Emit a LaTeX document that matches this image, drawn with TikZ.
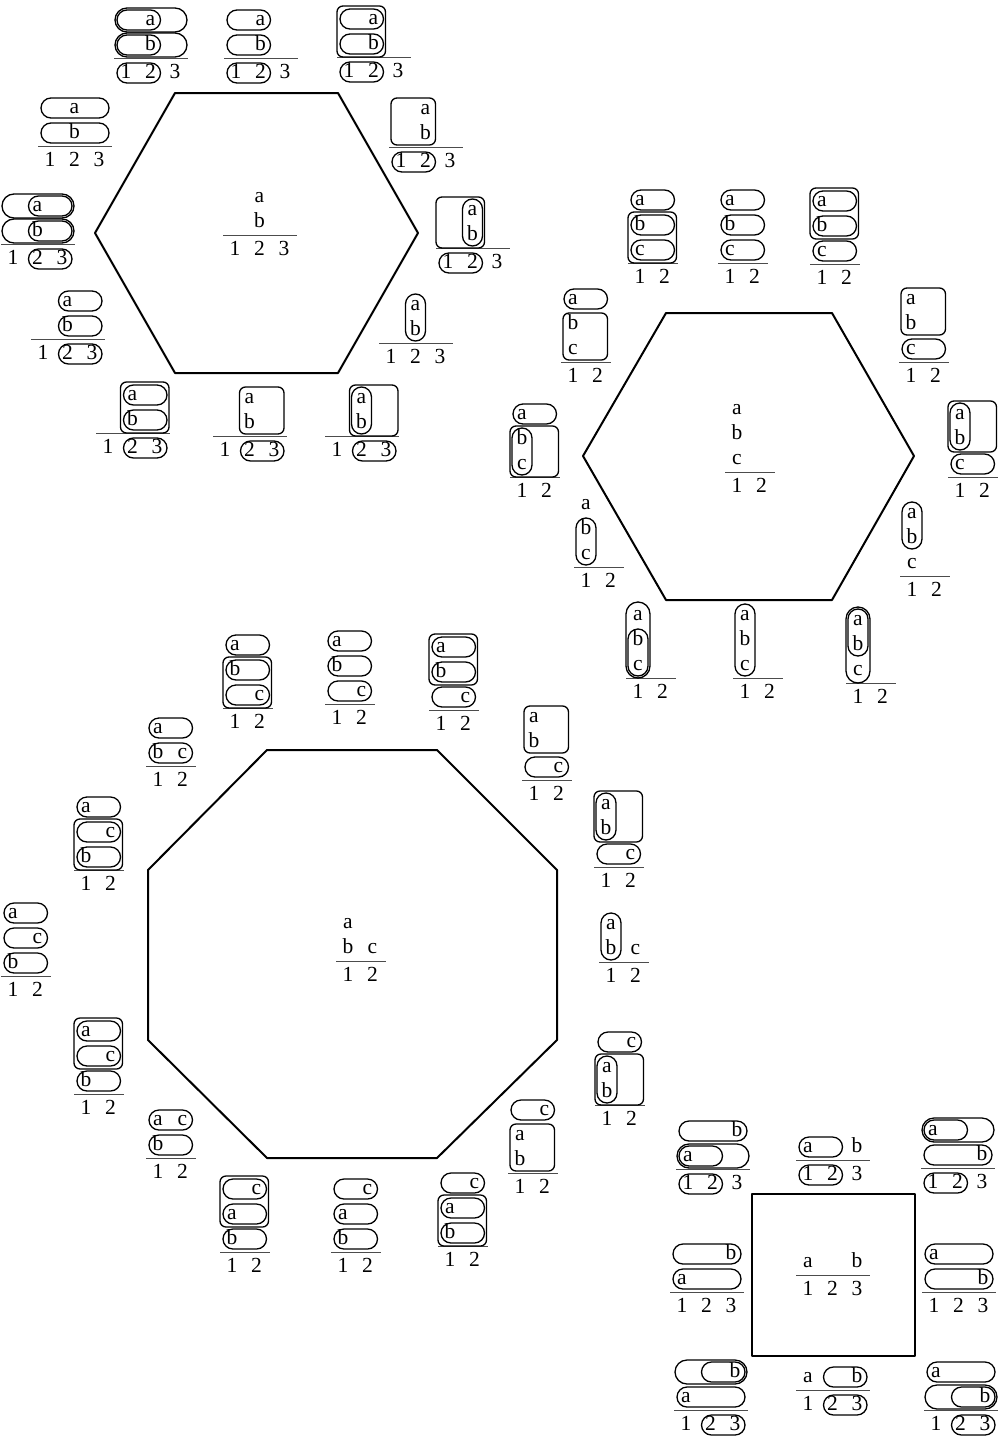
\documentclass[tikz,border=0pt]{standalone}
\usepackage{fontspec}
\setmainfont{Liberation Serif}

% spacing of the small tableaux
\newcommand\cstep{24.5}
\newcommand\rstep{25}
% letter #1 in column #2, row #3 (row 1 sits on the rule)
\newcommand\letr[3]{\node[lbl] (\dname-#1) at ({\cstep*(#2-1)},{-13-\rstep*(#3-1)}) {#1};}
% row stadium: row #1, columns #2..#3, pad #4
\newcommand\rowst[4]{\pgfmathsetmacro\grprad{10+#4}%
  \draw[grp, rounded corners=\grprad pt] ({\cstep*(#2-1)-9-#4},{-23-\rstep*(#1-1)-#4}) rectangle ({\cstep*(#3-1)+10+#4},{-3-\rstep*(#1-1)+#4});}
% column stadium: column #1, rows #2 (top) .. #3 (bottom), pad #4
\newcommand\colst[4]{\pgfmathsetmacro\grprad{10+#4}%
  \draw[grp, rounded corners=\grprad pt] ({\cstep*(#1-1)-10-#4},{-24-\rstep*(#2-1)-#4}) rectangle ({\cstep*(#1-1)+10+#4},{-2-\rstep*(#3-1)+#4});}
% box: columns #1..#2, rows #3 (bottom) .. #4 (top), pad #5
\newcommand\grpbox[5]{%
  \draw[grp, rounded corners=6pt] ({\cstep*(#1-1)-10-#5},{-24-\rstep*(#4-1)-#5}) rectangle ({\cstep*(#2-1)+10+#5},{-2-\rstep*(#3-1)+#5});}
% stadium round the digits #1..#2
\newcommand\digst[2]{\draw[grp, rounded corners=10pt] ({\cstep*(#1-1)-9},5) rectangle ({\cstep*(#2-1)+10},25);}
% one tableau: name, x, y of the rule, number of columns, contents
\newcommand\glyphdia[5]{\begin{scope}[shift={(#2,#3)}]\def\dname{#1}%
  \draw[rul] (-12,0) -- ({\cstep*(#4-1)+13},0);
  \foreach \k in {1,...,#4} \node[lbl] (#1-\k) at ({\cstep*(\k-1)},15) {\k};
  #5
\end{scope}}

\begin{document}
\begin{tikzpicture}[x=1pt, y=-1pt, line join=round, font=\fontsize{21.5}{25}\selectfont,
    lbl/.style={inner sep=0pt, text height=11.5pt, text depth=0pt},
    grp/.style={draw, line width=1.3pt},
    rul/.style={draw=black!70, line width=0.9pt},
    poly/.style={draw, line width=2pt}]
\useasboundingbox (0,0) rectangle (1006,1440);

% first hexagon
\draw[poly] (175,93) -- (338,93) -- (418,233) -- (338,373) -- (175,373) -- (95,233) -- cycle;
\glyphdia{hA}{235}{235}{3}{\letr{a}{2}{2}\letr{b}{2}{1}}
\glyphdia{hA1}{126}{58}{3}{\letr{a}{2}{2}\letr{b}{2}{1}
  \rowst{2}{1}{2}{0}\rowst{2}{1}{3}{2}\rowst{1}{1}{2}{0}\rowst{1}{1}{3}{2}\digst{1}{2}}
\glyphdia{hA2}{236}{58}{3}{\letr{a}{2}{2}\letr{b}{2}{1}
  \rowst{2}{1}{2}{0}\rowst{1}{1}{2}{0}\digst{1}{2}}
\glyphdia{hA3}{349}{57}{3}{\letr{a}{2}{2}\letr{b}{2}{1}
  \rowst{2}{1}{2}{0}\rowst{1}{1}{2}{0}\grpbox{1}{2}{1}{2}{2}\digst{1}{2}}
\glyphdia{hA4}{401}{147}{3}{\letr{a}{2}{2}\letr{b}{2}{1}
  \grpbox{1}{2}{1}{2}{0}\digst{1}{2}}
\glyphdia{hA5}{448}{248}{3}{\letr{a}{2}{2}\letr{b}{2}{1}
  \colst{2}{2}{1}{0}\grpbox{1}{2}{1}{2}{2}\digst{1}{2}}
\glyphdia{hA6}{391}{343}{3}{\letr{a}{2}{2}\letr{b}{2}{1}
  \colst{2}{2}{1}{0}}
\glyphdia{hA7}{337}{436}{3}{\letr{a}{2}{2}\letr{b}{2}{1}
  \colst{2}{2}{1}{0}\grpbox{2}{3}{1}{2}{2}\digst{2}{3}}
\glyphdia{hA8}{225}{436}{3}{\letr{a}{2}{2}\letr{b}{2}{1}
  \grpbox{2}{3}{1}{2}{0}\digst{2}{3}}
\glyphdia{hA9}{108}{433}{3}{\letr{a}{2}{2}\letr{b}{2}{1}
  \rowst{2}{2}{3}{0}\rowst{1}{2}{3}{0}\grpbox{2}{3}{1}{2}{2}\digst{2}{3}}
\glyphdia{hA10}{43}{339}{3}{\letr{a}{2}{2}\letr{b}{2}{1}
  \rowst{2}{2}{3}{0}\rowst{1}{2}{3}{0}\digst{2}{3}}
\glyphdia{hA11}{13}{244}{3}{\letr{a}{2}{2}\letr{b}{2}{1}
  \rowst{2}{2}{3}{0}\rowst{2}{1}{3}{2}\rowst{1}{2}{3}{0}\rowst{1}{1}{3}{2}\digst{2}{3}}
\glyphdia{hA12}{50}{146}{3}{\letr{a}{2}{2}\letr{b}{2}{1}
  \rowst{2}{1}{3}{0}\rowst{1}{1}{3}{0}}

% second hexagon
\draw[poly] (666,313) -- (832,313) -- (914,456) -- (832,600) -- (666,600) -- (583,456) -- cycle;
\glyphdia{hB}{737}{472}{2}{\letr{a}{1}{3}\letr{b}{1}{2}\letr{c}{1}{1}}
\glyphdia{hB1}{640}{263}{2}{\letr{a}{1}{3}\letr{b}{1}{2}\letr{c}{1}{1}
  \rowst{3}{1}{2}{0}\rowst{2}{1}{2}{0}\rowst{1}{1}{2}{0}\grpbox{1}{2}{1}{2}{2}}
\glyphdia{hB2}{730}{263}{2}{\letr{a}{1}{3}\letr{b}{1}{2}\letr{c}{1}{1}
  \rowst{3}{1}{2}{0}\rowst{2}{1}{2}{0}\rowst{1}{1}{2}{0}}
\glyphdia{hB3}{822}{264}{2}{\letr{a}{1}{3}\letr{b}{1}{2}\letr{c}{1}{1}
  \rowst{3}{1}{2}{0}\rowst{2}{1}{2}{0}\rowst{1}{1}{2}{0}\grpbox{1}{2}{2}{3}{2}}
\glyphdia{hB4}{911}{362}{2}{\letr{a}{1}{3}\letr{b}{1}{2}\letr{c}{1}{1}
  \grpbox{1}{2}{2}{3}{0}\rowst{1}{1}{2}{0}}
\glyphdia{hB5}{960}{477}{2}{\letr{a}{1}{3}\letr{b}{1}{2}\letr{c}{1}{1}
  \colst{1}{3}{2}{0}\grpbox{1}{2}{2}{3}{2}\rowst{1}{1}{2}{0}}
\glyphdia{hB6}{912}{576}{2}{\letr{a}{1}{3}\letr{b}{1}{2}\letr{c}{1}{1}
  \colst{1}{3}{2}{0}}
\glyphdia{hB7}{858}{683}{2}{\letr{a}{1}{3}\letr{b}{1}{2}\letr{c}{1}{1}
  \colst{1}{3}{1}{2}\colst{1}{3}{2}{0}}
\glyphdia{hB8}{745}{678}{2}{\letr{a}{1}{3}\letr{b}{1}{2}\letr{c}{1}{1}
  \colst{1}{3}{1}{0}}
\glyphdia{hB9}{638}{678}{2}{\letr{a}{1}{3}\letr{b}{1}{2}\letr{c}{1}{1}
  \colst{1}{3}{1}{2}\colst{1}{2}{1}{0}}
\glyphdia{hB10}{586}{567}{2}{\letr{a}{1}{3}\letr{b}{1}{2}\letr{c}{1}{1}
  \colst{1}{2}{1}{0}}
\glyphdia{hB11}{522}{477}{2}{\letr{a}{1}{3}\letr{b}{1}{2}\letr{c}{1}{1}
  \rowst{3}{1}{2}{0}\colst{1}{2}{1}{0}\grpbox{1}{2}{1}{2}{2}}
\glyphdia{hB12}{573}{362}{2}{\letr{a}{1}{3}\letr{b}{1}{2}\letr{c}{1}{1}
  \rowst{3}{1}{2}{0}\grpbox{1}{2}{1}{2}{0}}

% octagon
\draw[poly] (267,750) -- (437,750) -- (557,870) -- (557,1040) -- (437,1158) -- (267,1158) -- (148,1040) -- (148,870) -- cycle;
\glyphdia{oc}{348}{961}{2}{\letr{a}{1}{2}\letr{b}{1}{1}\letr{c}{2}{1}}
\glyphdia{oc1}{235}{708}{2}{\letr{a}{1}{3}\letr{b}{1}{2}\letr{c}{2}{1}
  \rowst{3}{1}{2}{0}\rowst{2}{1}{2}{0}\rowst{1}{1}{2}{0}\grpbox{1}{2}{1}{2}{2}}
\glyphdia{oc2}{337}{704}{2}{\letr{a}{1}{3}\letr{b}{1}{2}\letr{c}{2}{1}
  \rowst{3}{1}{2}{0}\rowst{2}{1}{2}{0}\rowst{1}{1}{2}{0}}
\glyphdia{oc3}{441}{710}{2}{\letr{a}{1}{3}\letr{b}{1}{2}\letr{c}{2}{1}
  \rowst{3}{1}{2}{0}\rowst{2}{1}{2}{0}\rowst{1}{1}{2}{0}\grpbox{1}{2}{2}{3}{2}}
\glyphdia{oc4}{158}{766}{2}{\letr{a}{1}{2}\letr{b}{1}{1}\letr{c}{2}{1}
  \rowst{2}{1}{2}{0}\rowst{1}{1}{2}{0}}
\glyphdia{oc5}{534}{780}{2}{\letr{a}{1}{3}\letr{b}{1}{2}\letr{c}{2}{1}
  \grpbox{1}{2}{2}{3}{0}\rowst{1}{1}{2}{0}}
\glyphdia{oc6}{606}{867}{2}{\letr{a}{1}{3}\letr{b}{1}{2}\letr{c}{2}{1}
  \colst{1}{3}{2}{0}\grpbox{1}{2}{2}{3}{2}\rowst{1}{1}{2}{0}}
\glyphdia{oc7}{611}{962}{2}{\letr{a}{1}{2}\letr{b}{1}{1}\letr{c}{2}{1}
  \colst{1}{2}{1}{0}}
\glyphdia{oc8}{607}{1105}{2}{\letr{c}{2}{3}\letr{a}{1}{2}\letr{b}{1}{1}
  \rowst{3}{1}{2}{0}\colst{1}{2}{1}{0}\grpbox{1}{2}{1}{2}{2}}
\glyphdia{oc9}{520}{1173}{2}{\letr{c}{2}{3}\letr{a}{1}{2}\letr{b}{1}{1}
  \rowst{3}{1}{2}{0}\grpbox{1}{2}{1}{2}{0}}
\glyphdia{oc10}{450}{1246}{2}{\letr{c}{2}{3}\letr{a}{1}{2}\letr{b}{1}{1}
  \rowst{3}{1}{2}{0}\rowst{2}{1}{2}{0}\rowst{1}{1}{2}{0}\grpbox{1}{2}{1}{2}{2}}
\glyphdia{oc11}{343}{1252}{2}{\letr{c}{2}{3}\letr{a}{1}{2}\letr{b}{1}{1}
  \rowst{3}{1}{2}{0}\rowst{2}{1}{2}{0}\rowst{1}{1}{2}{0}}
\glyphdia{oc12}{232}{1252}{2}{\letr{c}{2}{3}\letr{a}{1}{2}\letr{b}{1}{1}
  \rowst{3}{1}{2}{0}\rowst{2}{1}{2}{0}\rowst{1}{1}{2}{0}\grpbox{1}{2}{2}{3}{2}}
\glyphdia{oc13}{158}{1158}{2}{\letr{a}{1}{2}\letr{c}{2}{2}\letr{b}{1}{1}
  \rowst{2}{1}{2}{0}\rowst{1}{1}{2}{0}}
\glyphdia{oc14}{86}{1094}{2}{\letr{a}{1}{3}\letr{c}{2}{2}\letr{b}{1}{1}
  \rowst{3}{1}{2}{0}\rowst{2}{1}{2}{0}\rowst{1}{1}{2}{0}\grpbox{1}{2}{2}{3}{2}}
\glyphdia{oc15}{13}{976}{2}{\letr{a}{1}{3}\letr{c}{2}{2}\letr{b}{1}{1}
  \rowst{3}{1}{2}{0}\rowst{2}{1}{2}{0}\rowst{1}{1}{2}{0}}
\glyphdia{oc16}{86}{870}{2}{\letr{a}{1}{3}\letr{c}{2}{2}\letr{b}{1}{1}
  \rowst{3}{1}{2}{0}\rowst{2}{1}{2}{0}\rowst{1}{1}{2}{0}\grpbox{1}{2}{1}{2}{2}}

% square
\draw[poly] (752,1194) rectangle (915,1356);
\glyphdia{sq}{808}{1275}{3}{\letr{a}{1}{1}\letr{b}{3}{1}}
\glyphdia{sq1}{688}{1169}{3}{\letr{b}{3}{2}\letr{a}{1}{1}
  \rowst{2}{1}{3}{0}\rowst{1}{1}{2}{0}\rowst{1}{1}{3}{2}\digst{1}{2}}
\glyphdia{sq2}{808}{1160}{3}{\letr{a}{1}{1}\letr{b}{3}{1}
  \rowst{1}{1}{2}{0}\digst{1}{2}}
\glyphdia{sq3}{933}{1168}{3}{\letr{a}{1}{2}\letr{b}{3}{1}
  \rowst{2}{1}{2}{0}\rowst{2}{1}{3}{2}\rowst{1}{1}{3}{0}\digst{1}{2}}
\glyphdia{sq4}{682}{1292}{3}{\letr{b}{3}{2}\letr{a}{1}{1}
  \rowst{2}{1}{3}{0}\rowst{1}{1}{3}{0}}
\glyphdia{sq5}{934}{1292}{3}{\letr{a}{1}{2}\letr{b}{3}{1}
  \rowst{2}{1}{3}{0}\rowst{1}{1}{3}{0}}
\glyphdia{sq6}{686}{1410}{3}{\letr{b}{3}{2}\letr{a}{1}{1}
  \rowst{2}{2}{3}{0}\rowst{2}{1}{3}{2}\rowst{1}{1}{3}{0}\digst{2}{3}}
\glyphdia{sq7}{808}{1390}{3}{\letr{a}{1}{1}\letr{b}{3}{1}
  \rowst{1}{2}{3}{0}\digst{2}{3}}
\glyphdia{sq8}{936}{1410}{3}{\letr{a}{1}{2}\letr{b}{3}{1}
  \rowst{2}{1}{3}{0}\rowst{1}{2}{3}{0}\rowst{1}{1}{3}{2}\digst{2}{3}}
\end{tikzpicture}
\end{document}
